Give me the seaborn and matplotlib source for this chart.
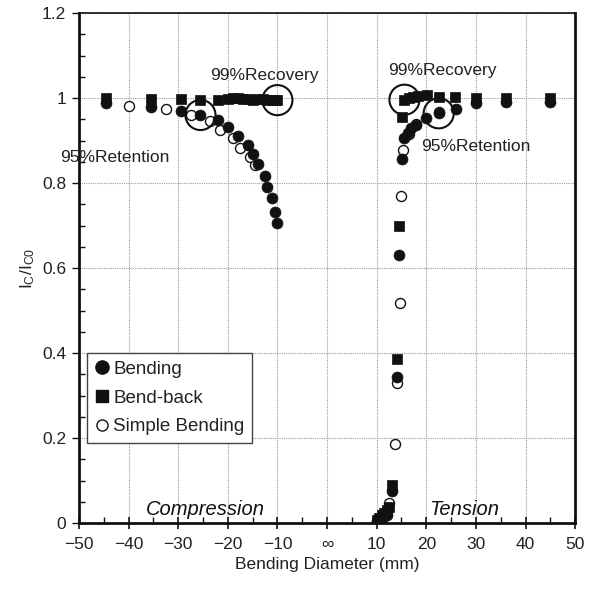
import numpy as np
import pandas as pd
import matplotlib
matplotlib.use("Agg")
import matplotlib.pyplot as plt
import seaborn as sns
from matplotlib.lines import Line2D
from matplotlib.ticker import MultipleLocator, FixedLocator

# Bending: critical current ratio while bent (negative = compression side)
bend_x = [-44.5, -35.5, -29.5, -25.5, -22, -20, -18, -16, -15, -14, -12.5, -12, -11, -10.5, -10,
          10, 11, 12, 13, 14, 14.5, 15.2, 15.5, 16.3, 17, 18, 20, 22.5, 26, 30, 36, 45]
bend_y = [0.988, 0.978, 0.970, 0.960, 0.948, 0.931, 0.911, 0.889, 0.868, 0.845, 0.817, 0.791, 0.765, 0.731, 0.705,
          0.005, 0.01, 0.02, 0.075, 0.344, 0.631, 0.856, 0.905, 0.917, 0.929, 0.937, 0.952, 0.964, 0.973, 0.988, 0.99, 0.99]

# Bend-back: ratio after returning the tape to straight
back_x = [-44.5, -35.5, -29.5, -25.5, -22, -20, -19, -18, -17, -16, -15, -14, -13, -12, -11, -10.5, -10,
          10, 10.5, 11, 11.5, 12, 12.5, 13, 14, 14.5, 15.2, 15.6, 16.5, 17.3, 18.3, 20.2, 22.5, 25.7, 30, 36, 45]
back_y = [1.0, 0.998, 0.998, 0.996, 0.996, 0.998, 1.0, 1.0, 0.998, 0.998, 0.996, 0.998, 0.998, 0.996, 0.996, 0.995, 0.995,
          0.008, 0.013, 0.018, 0.024, 0.03, 0.038, 0.09, 0.385, 0.70, 0.956, 0.996, 1.0, 1.002, 1.005, 1.007, 1.003, 1.003, 1.0, 1.0, 1.0]

# Simple bending
simple_x = [-40, -32.5, -27.5, -23.5, -21.5, -19, -17.5, -15.5, -14.5,
            12.4, 13.6, 14.1, 14.6, 15.0, 15.3, 16.5, 18, 22.5]
simple_y = [0.981, 0.973, 0.960, 0.945, 0.925, 0.905, 0.882, 0.862, 0.842,
            0.046, 0.186, 0.329, 0.517, 0.769, 0.878, 0.915, 0.94, 0.966]

x_ticks = [-50, -40, -30, -20, -10, 0, 10, 20, 30, 40, 50]
x_tick_labels = ["\u221250", "\u221240", "\u221230", "\u221220", "\u221210", "\u221e",
                 "10", "20", "30", "40", "50"]
y_ticks = [0, 0.2, 0.4, 0.6, 0.8, 1.0, 1.2]
y_tick_labels = ["0", "0.2", "0.4", "0.6", "0.8", "1", "1.2"]

sns.set_style("ticks")
plt.rcParams["font.family"] = ["Liberation Sans", "DejaVu Sans"]
plt.rcParams["axes.unicode_minus"] = True

fig = plt.figure(figsize=(5.93, 5.91), dpi=100)
ax = fig.add_axes([0.133, 0.115, 0.837, 0.863])

ax.grid(True, which="major", color="#9a9a9a", linestyle=(0, (1, 1)), linewidth=0.8, zorder=0)
ax.set_axisbelow(True)

sns.scatterplot(x=simple_x, y=simple_y, ax=ax, marker="o", s=52, facecolor="white",
                edgecolor="#111111", linewidth=1.0, zorder=3)
sns.scatterplot(x=bend_x, y=bend_y, ax=ax, marker="o", s=62, color="#111111",
                edgecolor="#111111", linewidth=0.5, zorder=4)
sns.scatterplot(x=back_x, y=back_y, ax=ax, marker="s", s=52, color="#111111",
                edgecolor="#111111", linewidth=0.5, zorder=5)

# highlight rings around the retention / recovery points
rings = [(bend_x[3], bend_y[3]), (back_x[16], back_y[16]),
         (back_x[27], back_y[27]), (bend_x[27], bend_y[27])]
ax.scatter([r[0] for r in rings], [r[1] for r in rings], s=470, facecolor="none",
           edgecolor="#111111", linewidth=1.5, zorder=6)

ax.set_xlim(-50, 50)
ax.set_ylim(0, 1.2)
ax.xaxis.set_major_locator(FixedLocator(x_ticks))
ax.set_xticklabels(x_tick_labels)
ax.xaxis.set_minor_locator(MultipleLocator(5))
ax.yaxis.set_major_locator(FixedLocator(y_ticks))
ax.set_yticklabels(y_tick_labels)
ax.yaxis.set_minor_locator(MultipleLocator(0.05))

ax.tick_params(axis="x", which="major", direction="inout", length=8, width=1.2,
               labelsize=12.5, pad=6, color="#111111", labelcolor="#222222")
ax.tick_params(axis="x", which="minor", direction="in", length=4, width=1.0, color="#111111")
ax.tick_params(axis="y", which="major", direction="out", length=5, width=1.0,
               labelsize=12.5, pad=4, color="#111111", labelcolor="#222222")
ax.tick_params(axis="y", which="minor", direction="in", length=4, width=1.0, color="#111111")

for side, lw in (("left", 2.0), ("bottom", 2.0), ("right", 2.0), ("top", 1.2)):
    ax.spines[side].set_visible(True)
    ax.spines[side].set_linewidth(lw)
    ax.spines[side].set_color("#111111")

ax.set_xlabel("Bending Diameter (mm)", fontsize=12.5, color="#222222", labelpad=4)
ax.set_ylabel(r"$\mathregular{I_C/I_{C0}}$", fontsize=12.5, color="#222222", labelpad=4)

txt = dict(fontsize=12.5, color="#222222", va="center", ha="left")
ax.text(-23.6, 1.052, "99%Recovery", **txt)
ax.text(12.4, 1.064, "99%Recovery", **txt)
ax.text(18.9, 0.885, "95%Retention", **txt)
ax.text(-53.8, 0.859, "95%Retention", clip_on=False, **txt)

ax.text(-24.5, 0.032, "Compression", fontsize=14.5, style="italic", color="#111111",
        ha="center", va="center")
ax.text(27.7, 0.032, "Tension", fontsize=14.5, style="italic", color="#111111",
        ha="center", va="center")

handles = [
    Line2D([], [], marker="o", linestyle="none", markersize=9.5, color="#111111"),
    Line2D([], [], marker="s", linestyle="none", markersize=8.5, color="#111111"),
    Line2D([], [], marker="o", linestyle="none", markersize=8, markerfacecolor="white",
           markeredgecolor="#111111", markeredgewidth=1.0),
]
leg = ax.legend(handles, ["Bending", "Bend-back", "Simple Bending"], loc="upper left",
                bbox_to_anchor=(0.016, 0.333), borderaxespad=0, fontsize=13.5,
                frameon=True, fancybox=False, framealpha=1, edgecolor="#444444",
                handlelength=0.8, handletextpad=0.2, labelspacing=0.62, borderpad=0.4)
leg.get_frame().set_linewidth(1.0)
for t in leg.get_texts():
    t.set_color("#222222")

fig.savefig("out.png", dpi=100)
